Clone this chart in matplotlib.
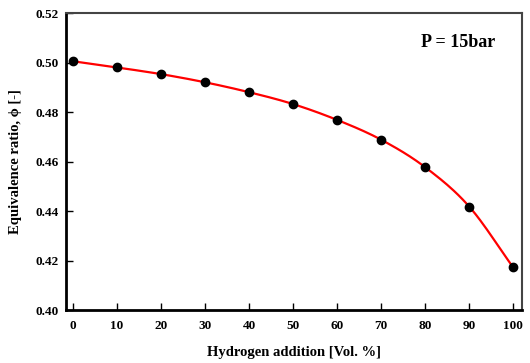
import numpy as np
import matplotlib
matplotlib.use("Agg")
import matplotlib.pyplot as plt

plt.rcParams['font.family'] = ['Liberation Serif', 'DejaVu Serif']
plt.rcParams['font.weight'] = 'bold'

# hydrogen fraction in the fuel [vol. %] and resulting equivalence ratio
h2_vol = [0, 10, 20, 30, 40, 50, 60, 70, 80, 90, 100]
phi = [0.5005, 0.498, 0.4953, 0.492, 0.488, 0.4832, 0.4768, 0.4688, 0.4577, 0.4418, 0.4172]
x_ticks = [0, 10, 20, 30, 40, 50, 60, 70, 80, 90, 100]
y_ticks = [0.40, 0.42, 0.44, 0.46, 0.48, 0.50, 0.52]


def catmull_rom(x, y, n=20):
    # smooth curve through every point (x is uniform, so plain Catmull-Rom is fine)
    x = np.asarray(x, float)
    y = np.asarray(y, float)
    px = np.concatenate([[2 * x[0] - x[1]], x, [2 * x[-1] - x[-2]]])
    py = np.concatenate([[2 * y[0] - y[1]], y, [2 * y[-1] - y[-2]]])
    xs, ys = [], []
    t = np.linspace(0, 1, n, endpoint=False)
    for i in range(1, len(px) - 2):
        for p, out in ((px, xs), (py, ys)):
            p0, p1, p2, p3 = p[i - 1], p[i], p[i + 1], p[i + 2]
            out.append(0.5 * (2 * p1 + (-p0 + p2) * t
                              + (2 * p0 - 5 * p1 + 4 * p2 - p3) * t ** 2
                              + (-p0 + 3 * p1 - 3 * p2 + p3) * t ** 3))
    xs.append([x[-1]])
    ys.append([y[-1]])
    return np.concatenate(xs), np.concatenate(ys)


fig = plt.figure(figsize=(5.3, 3.63), dpi=100)
ax = fig.add_axes([66 / 530, 1 - 310 / 363, 456 / 530, 297 / 363])

cx, cy = catmull_rom(h2_vol, phi)
ax.plot(cx, cy, color='red', lw=1.6, zorder=2)
ax.plot(h2_vol, phi, 'o', color='black', ms=6, zorder=3)

ax.set_xlim(-1.6, 102)
ax.set_ylim(0.40, 0.52)
ax.set_xticks(x_ticks)
ax.set_yticks(y_ticks)
ax.set_yticklabels(['%.2f' % v for v in y_ticks])
ax.tick_params(direction='in', length=5, width=1, labelsize=9.5, pad=5)
ax.tick_params(axis='x', pad=7)
for lab in ax.get_xticklabels() + ax.get_yticklabels():
    lab.set_fontweight('bold')

for side in ['left', 'bottom']:
    ax.spines[side].set_linewidth(2)
for side in ['top', 'right']:
    ax.spines[side].set_linewidth(1.5)
    ax.spines[side].set_color('#444444')

ax.set_xlabel('Hydrogen addition [Vol. %]', fontsize=10.5, fontweight='bold', labelpad=10)
ax.set_ylabel('Equivalence ratio, \u03d5 [-]', fontsize=10.5, fontweight='bold', labelpad=10)
ax.text(0.86, 0.9, 'P = 15bar', transform=ax.transAxes, ha='center', va='center',
        fontsize=13, fontweight='bold')

fig.savefig('out.png', dpi=100)
